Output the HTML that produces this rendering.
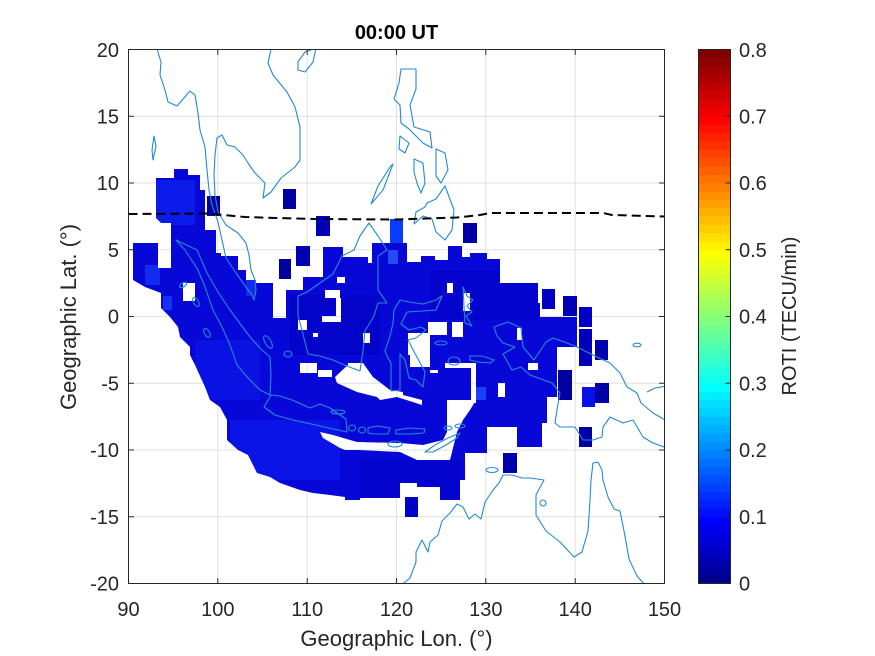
<!DOCTYPE html>
<html><head><meta charset="utf-8"><style>
html,body{margin:0;padding:0;background:#fff;}
svg{display:block;}
text{font-family:"Liberation Sans",Arial,Helvetica,sans-serif;fill:#262626;}
</style></head><body>
<svg width="875" height="656" viewBox="0 0 875 656" xmlns="http://www.w3.org/2000/svg">
<defs>
<clipPath id="ax"><rect x="128.5" y="49.5" width="536" height="534"/></clipPath>
<mask id="dm" maskUnits="userSpaceOnUse" x="0" y="0" width="875" height="656">
<path fill="#fff" d="M156,178 L174,178 L174,169 L188,169 L188,175 L200,175 L200,190 L205,190 L205,230 L216,230 L216,253 L221,253 L221,256 L238,256 L238,270 L246,270 L246,280 L256,280 L256,283 L273,283 L273,318 L286,318 L286,290 L303,290 L303,277 L323,277 L323,247 L343,247 L343,257 L368,257 L368,263 L372,263 L372,243 L407,243 L407,262 L421,262 L421,256 L435,256 L435,260 L448,260 L448,246 L462,246 L462,257 L470,257 L470,253 L487,253 L487,259 L500,259 L500,283 L538,283 L538,303 L540,303 L540,317 L577,317 L577,347 L557,347 L557,397 L547,397 L547,423 L542,423 L542,447 L517,447 L517,427 L487,427 L487,453 L465,453 L465,480 L460,480 L460,500 L440,500 L440,487 L417,487 L417,483 L400,483 L400,498 L360,498 L360,500 L345,500 L345,497 L330,495 L313,493 L300,490 L280,483 L270,477 L257,473 L248,455 L238,450 L227,440 L227,420 L220,407 L210,400 L205,387 L195,365 L190,355 L190,347 L180,337 L178,327 L170,317 L161,308 L161,293 L145,287 L133,280 L133,243 L158,243 L158,268 L171,268 L171,223 L161,223 L156,218 Z"/>
<g fill="#000">
<path d="M335,377 L350,363 L363,363 L373,377 L390,390 L403,392 L403,395 L422,400 L422,405 L397,397 L380,400 L377,397 L357,392 L337,383 Z"/>
<path d="M408,333 L428,333 L428,322 L447,322 L447,335 L430,335 L430,367 L410,367 L410,355 L408,355 Z"/>
<rect x="452" y="322" width="11" height="15"/>
<rect x="445" y="363" width="31" height="5"/>
<rect x="471" y="368" width="5" height="35"/>
<path d="M320,432 L333,435 L357,442 L400,443 L423,445 L443,440 L447,432 L457,432 L450,460 L417,460 L400,452 L358,450 L345,450 L340,448 L323,438 Z"/>
<path d="M447,400 L476,400 L470,410 L463,420 L457,432 L447,432 Z"/>
<rect x="337" y="277" width="8" height="6"/>
<rect x="325" y="290" width="15" height="8"/>
<rect x="336" y="298" width="5" height="24"/>
<rect x="322" y="316" width="18" height="6"/>
<rect x="298" y="320" width="9" height="10"/>
<rect x="183" y="283" width="12" height="18"/>
<rect x="363" y="333" width="7" height="10"/>
<rect x="348" y="363" width="15" height="7"/>
<rect x="300" y="363" width="17" height="10"/>
<rect x="318" y="370" width="14" height="7"/>
<rect x="313" y="333" width="5" height="4"/>
<rect x="517" y="328" width="5" height="12"/>
<rect x="528" y="363" width="10" height="7"/>
<rect x="498" y="383" width="7" height="14"/>
<rect x="430" y="370" width="8" height="3"/>
<rect x="447" y="283" width="6" height="10"/>
<rect x="463" y="293" width="7" height="18"/>
</g>
</mask>
</defs>

<!-- grid -->
<g stroke="#e1e1e1" stroke-width="1">
<line x1="217.8" y1="49.5" x2="217.8" y2="583.5"/>
<line x1="307.2" y1="49.5" x2="307.2" y2="583.5"/>
<line x1="396.5" y1="49.5" x2="396.5" y2="583.5"/>
<line x1="485.8" y1="49.5" x2="485.8" y2="583.5"/>
<line x1="575.2" y1="49.5" x2="575.2" y2="583.5"/>
<line x1="128.5" y1="116.25" x2="664.5" y2="116.25"/>
<line x1="128.5" y1="183" x2="664.5" y2="183"/>
<line x1="128.5" y1="249.75" x2="664.5" y2="249.75"/>
<line x1="128.5" y1="316.5" x2="664.5" y2="316.5"/>
<line x1="128.5" y1="383.25" x2="664.5" y2="383.25"/>
<line x1="128.5" y1="450" x2="664.5" y2="450"/>
<line x1="128.5" y1="516.75" x2="664.5" y2="516.75"/>
</g>

<!-- data mass -->
<g mask="url(#dm)">
<rect x="128" y="160" width="460" height="350" fill="#0707d8"/>
<rect x="150" y="180" width="45" height="45" fill="#1535ff" opacity="0.45"/>
<rect x="145" y="265" width="15" height="20" fill="#1a45ff" opacity="0.6"/>
<rect x="163" y="296" width="9" height="14" fill="#1a45ff" opacity="0.7"/>
<rect x="246" y="278" width="10" height="18" fill="#1a45ff" opacity="0.6"/>
<rect x="388" y="250" width="10" height="14" fill="#2a5cff" opacity="0.8"/>
<rect x="473" y="387" width="13" height="13" fill="#1f50ff" opacity="0.8"/>
<rect x="230" y="420" width="110" height="60" fill="#1022f5" opacity="0.5"/>
<rect x="195" y="340" width="65" height="60" fill="#1022f5" opacity="0.4"/>
<rect x="290" y="295" width="90" height="60" fill="#0000b8" opacity="0.45"/>
<rect x="430" y="270" width="110" height="50" fill="#0000c0" opacity="0.4"/>
<rect x="360" y="460" width="100" height="40" fill="#0000c0" opacity="0.4"/>
</g>
<g>
<rect x="390" y="219" width="13" height="24" fill="#0a3cff"/>
<rect x="207" y="196" width="13" height="20" fill="#00009c"/>
<rect x="283" y="189" width="13" height="20" fill="#0000a0"/>
<rect x="316" y="216" width="14" height="20" fill="#0000b8"/>
<rect x="279" y="259" width="12" height="20" fill="#00009c"/>
<rect x="296" y="246" width="14" height="20" fill="#0000b0"/>
<rect x="463" y="223" width="14" height="20" fill="#0000a4"/>
<rect x="542" y="289" width="13" height="20" fill="#0000c0"/>
<rect x="563" y="296" width="14" height="20" fill="#0000b4"/>
<rect x="579" y="307" width="13" height="20" fill="#0000c8"/>
<rect x="579" y="329" width="13" height="37" fill="#0000b8"/>
<rect x="595" y="340" width="13" height="20" fill="#0000b0"/>
<rect x="558" y="370" width="14" height="30" fill="#0000a0"/>
<rect x="582" y="387" width="13" height="20" fill="#0a10e8"/>
<rect x="595" y="383" width="14" height="20" fill="#0000a8"/>
<rect x="579" y="427" width="13" height="20" fill="#0000a4"/>
<rect x="503" y="453" width="14" height="20" fill="#0000b0"/>
<rect x="405" y="497" width="13" height="20" fill="#0000c8"/>
</g>

<!-- coastlines -->
<g clip-path="url(#ax)" fill="none" stroke="#2589d3" stroke-width="1.1" stroke-linejoin="round">
<path d="M157,49 L161,62 L160,75 L165,90 L168,102 L177,106 L184,98 L190,91 L195,95 L198,113 L200,130 L205,147 L207,170 L209,190 L212,205 L218,222 L222,240 L226,258 L234,270 L243,283 L252,295 L254,300 L256,290 L255,280 L251,270 L249,255 L246,243 L238,233 L226,225 L218,212 L215,195 L214,175 L215,155 L217,138 L222,135 L227,145 L235,147 L243,155 L248,163 L255,173 L265,183 L263,198 L271,192 L281,178 L295,167 L300,160 L300,127 L295,107 L287,92 L273,75 L268,63 L271,49"/>
<path d="M298,62 L305,52 L316,48 L313,62 L305,72 L298,70 Z"/>
<path d="M154,136 L156,146 L153,160 L152,150 Z"/>
<path d="M176,240 L197,250 L207,273 L218,292 L230,310 L250,337 L262,350 L270,357 L271,375 L270,395 L260,390 L248,378 L237,365 L230,345 L222,327 L213,310 L205,287 L198,270 L185,250 Z"/>
<ellipse cx="183" cy="285" rx="4" ry="2" transform="rotate(-30 183 285)"/>
<ellipse cx="196" cy="302" rx="2.5" ry="5" transform="rotate(-30 196 302)"/>
<ellipse cx="207" cy="333" rx="2.5" ry="5" transform="rotate(-30 207 333)"/>
<ellipse cx="268" cy="342" rx="3" ry="7" transform="rotate(-30 268 342)"/>
<ellipse cx="288" cy="354" rx="4" ry="3"/>
<path d="M369,223 L360,236 L354,250 L342,256 L333,274 L320,283 L307,292 L298,296 L298,316 L302,330 L308,354 L320,356 L333,360 L347,366 L360,371 L363,351 L365,331 L374,316 L378,303 L387,303 L378,290 L378,270 L378,256 L387,250 L378,236 Z"/>
<path d="M400,300 L409,302 L423,304 L436,300 L442,296 L436,310 L423,311 L407,312 L401,324 L409,330 L421,327 L426,330 L416,338 L408,340 L418,359 L425,372 L423,387 L416,380 L409,378 L405,360 L400,354 L400,370 L400,390 L391,391 L391,376 L391,363 L387,356 L385,351 L390,336 L393,323 L394,310 Z"/>
<path d="M401,69 L416,69 L416,89 L410,105 L414,127 L430,132 L432,148 L423,143 L409,129 L401,123 L400,105 L394,99 L399,83 Z"/>
<path d="M400,136 L409,143 L405,153 L399,149 Z"/>
<path d="M436,149 L445,153 L448,170 L441,183 L436,176 Z"/>
<path d="M414,159 L423,163 L425,183 L421,193 L417,183 L414,172 Z"/>
<path d="M371,204 L383,190 L393,164 L390,167 L378,186 Z"/>
<path d="M427,203 L436,199 L445,186 L454,210 L452,230 L445,240 L436,232 L432,219 L423,216 L414,224 L416,212 L425,207 Z"/>
<path d="M264,407 L271,395 L280,396 L292,400 L310,408 L320,404 L330,408 L346,419 L347,432 L329,428 L311,424 L293,420 L275,415 Z"/>
<ellipse cx="338" cy="412" rx="7" ry="2"/>
<ellipse cx="352" cy="428" rx="3.5" ry="3"/>
<ellipse cx="362" cy="430" rx="3.5" ry="3"/>
<path d="M368,428 L377,426 L390,428 L388,434 L375,434 L368,433 Z"/>
<path d="M396,430 L410,428 L425,429 L424,433 L410,434 L396,434 Z"/>
<ellipse cx="395" cy="444" rx="7" ry="3"/>
<path d="M425,452 L435,445 L448,438 L460,433 L457,438 L446,445 L433,452 Z"/>
<ellipse cx="448" cy="428" rx="4" ry="2"/>
<ellipse cx="460" cy="426" rx="5" ry="2"/>
<path d="M463,287 L467,296 L473,300 L467,306 L472,312 L466,316 L472,326 L465,323 L464,306 Z"/>
<path d="M470,356 L482,356 L494,360 L490,363 L478,362 L470,360 Z"/>
<ellipse cx="454" cy="361" rx="6" ry="4"/>
<ellipse cx="441" cy="343" rx="6" ry="2"/>
<path d="M494,327 L508,322 L521,328 L523,347 L534,360 L546,342 L553,338 L567,343 L577,347 L597,357 L610,363 L620,373 L627,387 L637,393 L641,403 L653,413 L667,421 L667,448 L653,443 L643,437 L633,420 L623,423 L610,417 L603,427 L602,437 L593,440 L583,440 L575,427 L560,427 L555,423 L557,410 L560,393 L552,383 L530,375 L521,367 L512,370 L503,354 L515,347 L503,343 L497,336 Z"/>
<path d="M647,392 L655,388 L667,386"/>
<ellipse cx="637" cy="345" rx="4" ry="1.8"/>
<path d="M390,586 L404,583 L410,578 L416,562 L416,552 L422,540 L428,552 L430,542 L438,535 L442,521 L450,513 L457,504 L463,507 L469,519 L475,514 L481,519 L483,511 L485,502 L493,490 L499,483 L503,475 L512,475 L522,478 L530,478 L544,480 L536,495 L536,515 L546,531 L560,542 L574,557 L582,552 L588,531 L590,500 L591,480 L593,463 L598,462 L602,470 L603,480 L608,497 L614,509 L620,511 L625,536 L629,559 L637,576 L646,586"/>
<ellipse cx="492" cy="470" rx="6" ry="2.5"/>
<ellipse cx="543" cy="503" rx="3" ry="3"/>
</g>

<!-- magnetic equator -->
<path d="M128.5,214 L208,213.5 L245,217 L275,218 L315,219 L395,219.5 L457,217.5 L480,215 L490,213 L603,213 L612,215 L664.5,216.5" fill="none" stroke="#000" stroke-width="2" stroke-dasharray="9 5"/>

<!-- axes box and ticks -->
<rect x="128.5" y="49.5" width="536" height="534" fill="none" stroke="#262626" stroke-width="1"/>
<g stroke="#262626" stroke-width="1">
<path d="M217.8,583.5v-5.4M307.2,583.5v-5.4M396.5,583.5v-5.4M485.8,583.5v-5.4M575.2,583.5v-5.4"/>
<path d="M217.8,49.5v5.4M307.2,49.5v5.4M396.5,49.5v5.4M485.8,49.5v5.4M575.2,49.5v5.4"/>
<path d="M128.5,116.25h5.4M128.5,183h5.4M128.5,249.75h5.4M128.5,316.5h5.4M128.5,383.25h5.4M128.5,450h5.4M128.5,516.75h5.4"/>
<path d="M664.5,116.25h-5.4M664.5,183h-5.4M664.5,249.75h-5.4M664.5,316.5h-5.4M664.5,383.25h-5.4M664.5,450h-5.4M664.5,516.75h-5.4"/>
</g>

<!-- tick labels -->
<g font-size="20" text-anchor="end">
<text x="119" y="57">20</text>
<text x="119" y="123.5">15</text>
<text x="119" y="190">10</text>
<text x="119" y="257">5</text>
<text x="119" y="323.5">0</text>
<text x="119" y="390.5">-5</text>
<text x="119" y="457">-10</text>
<text x="119" y="524">-15</text>
<text x="119" y="590.5">-20</text>
</g>
<g font-size="20" text-anchor="middle">
<text x="128.5" y="616">90</text>
<text x="217.8" y="616">100</text>
<text x="307.2" y="616">110</text>
<text x="396.5" y="616">120</text>
<text x="485.8" y="616">130</text>
<text x="575.2" y="616">140</text>
<text x="664.5" y="616">150</text>
</g>
<text x="396.5" y="646" font-size="22" text-anchor="middle">Geographic Lon. (°)</text>
<text transform="translate(76,317) rotate(-90)" font-size="22" text-anchor="middle">Geographic Lat. (°)</text>
<text x="396.5" y="39" font-size="20" font-weight="bold" text-anchor="middle" style="fill:#000">00:00 UT</text>

<!-- colorbar -->
<g>
<rect x="698.5" y="574.9" width="32" height="8.9" fill="#00008f"/>
<rect x="698.5" y="566.6" width="32" height="8.9" fill="#00009f"/>
<rect x="698.5" y="558.2" width="32" height="8.9" fill="#0000af"/>
<rect x="698.5" y="549.9" width="32" height="8.9" fill="#0000bf"/>
<rect x="698.5" y="541.5" width="32" height="8.9" fill="#0000cf"/>
<rect x="698.5" y="533.2" width="32" height="8.9" fill="#0000df"/>
<rect x="698.5" y="524.8" width="32" height="8.9" fill="#0000ef"/>
<rect x="698.5" y="516.5" width="32" height="8.9" fill="#0000ff"/>
<rect x="698.5" y="508.2" width="32" height="8.9" fill="#0010ff"/>
<rect x="698.5" y="499.8" width="32" height="8.9" fill="#0020ff"/>
<rect x="698.5" y="491.5" width="32" height="8.9" fill="#0030ff"/>
<rect x="698.5" y="483.1" width="32" height="8.9" fill="#0040ff"/>
<rect x="698.5" y="474.8" width="32" height="8.9" fill="#0050ff"/>
<rect x="698.5" y="466.4" width="32" height="8.9" fill="#0060ff"/>
<rect x="698.5" y="458.1" width="32" height="8.9" fill="#0070ff"/>
<rect x="698.5" y="449.8" width="32" height="8.9" fill="#0080ff"/>
<rect x="698.5" y="441.4" width="32" height="8.9" fill="#008fff"/>
<rect x="698.5" y="433.1" width="32" height="8.9" fill="#009fff"/>
<rect x="698.5" y="424.7" width="32" height="8.9" fill="#00afff"/>
<rect x="698.5" y="416.4" width="32" height="8.9" fill="#00bfff"/>
<rect x="698.5" y="408.0" width="32" height="8.9" fill="#00cfff"/>
<rect x="698.5" y="399.7" width="32" height="8.9" fill="#00dfff"/>
<rect x="698.5" y="391.3" width="32" height="8.9" fill="#00efff"/>
<rect x="698.5" y="383.0" width="32" height="8.9" fill="#00ffff"/>
<rect x="698.5" y="374.7" width="32" height="8.9" fill="#10ffef"/>
<rect x="698.5" y="366.3" width="32" height="8.9" fill="#20ffdf"/>
<rect x="698.5" y="358.0" width="32" height="8.9" fill="#30ffcf"/>
<rect x="698.5" y="349.6" width="32" height="8.9" fill="#40ffbf"/>
<rect x="698.5" y="341.3" width="32" height="8.9" fill="#50ffaf"/>
<rect x="698.5" y="332.9" width="32" height="8.9" fill="#60ff9f"/>
<rect x="698.5" y="324.6" width="32" height="8.9" fill="#70ff8f"/>
<rect x="698.5" y="316.3" width="32" height="8.9" fill="#80ff80"/>
<rect x="698.5" y="307.9" width="32" height="8.9" fill="#8fff70"/>
<rect x="698.5" y="299.6" width="32" height="8.9" fill="#9fff60"/>
<rect x="698.5" y="291.2" width="32" height="8.9" fill="#afff50"/>
<rect x="698.5" y="282.9" width="32" height="8.9" fill="#bfff40"/>
<rect x="698.5" y="274.5" width="32" height="8.9" fill="#cfff30"/>
<rect x="698.5" y="266.2" width="32" height="8.9" fill="#dfff20"/>
<rect x="698.5" y="257.8" width="32" height="8.9" fill="#efff10"/>
<rect x="698.5" y="249.5" width="32" height="8.9" fill="#ffff00"/>
<rect x="698.5" y="241.2" width="32" height="8.9" fill="#ffef00"/>
<rect x="698.5" y="232.8" width="32" height="8.9" fill="#ffdf00"/>
<rect x="698.5" y="224.5" width="32" height="8.9" fill="#ffcf00"/>
<rect x="698.5" y="216.1" width="32" height="8.9" fill="#ffbf00"/>
<rect x="698.5" y="207.8" width="32" height="8.9" fill="#ffaf00"/>
<rect x="698.5" y="199.4" width="32" height="8.9" fill="#ff9f00"/>
<rect x="698.5" y="191.1" width="32" height="8.9" fill="#ff8f00"/>
<rect x="698.5" y="182.8" width="32" height="8.9" fill="#ff8000"/>
<rect x="698.5" y="174.4" width="32" height="8.9" fill="#ff7000"/>
<rect x="698.5" y="166.1" width="32" height="8.9" fill="#ff6000"/>
<rect x="698.5" y="157.7" width="32" height="8.9" fill="#ff5000"/>
<rect x="698.5" y="149.4" width="32" height="8.9" fill="#ff4000"/>
<rect x="698.5" y="141.0" width="32" height="8.9" fill="#ff3000"/>
<rect x="698.5" y="132.7" width="32" height="8.9" fill="#ff2000"/>
<rect x="698.5" y="124.3" width="32" height="8.9" fill="#ff1000"/>
<rect x="698.5" y="116.0" width="32" height="8.9" fill="#ff0000"/>
<rect x="698.5" y="107.7" width="32" height="8.9" fill="#ef0000"/>
<rect x="698.5" y="99.3" width="32" height="8.9" fill="#df0000"/>
<rect x="698.5" y="91.0" width="32" height="8.9" fill="#cf0000"/>
<rect x="698.5" y="82.6" width="32" height="8.9" fill="#bf0000"/>
<rect x="698.5" y="74.3" width="32" height="8.9" fill="#af0000"/>
<rect x="698.5" y="65.9" width="32" height="8.9" fill="#9f0000"/>
<rect x="698.5" y="57.6" width="32" height="8.9" fill="#8f0000"/>
<rect x="698.5" y="49.5" width="32" height="8.4" fill="#800000"/>
</g>
<rect x="698.5" y="49.5" width="32" height="534" fill="none" stroke="#262626" stroke-width="1"/>
<path d="M730.5,516.75h-5M730.5,450h-5M730.5,383.25h-5M730.5,316.5h-5M730.5,249.75h-5M730.5,183h-5M730.5,116.25h-5" stroke="#262626" stroke-width="1"/>
<g font-size="20">
<text x="739" y="590.5">0</text>
<text x="739" y="524">0.1</text>
<text x="739" y="457">0.2</text>
<text x="739" y="390.5">0.3</text>
<text x="739" y="323.5">0.4</text>
<text x="739" y="257">0.5</text>
<text x="739" y="190">0.6</text>
<text x="739" y="123.5">0.7</text>
<text x="739" y="57">0.8</text>
</g>
<text transform="translate(796,316) rotate(-90)" font-size="20" text-anchor="middle">ROTI (TECU/min)</text>
</svg>
</body></html>
